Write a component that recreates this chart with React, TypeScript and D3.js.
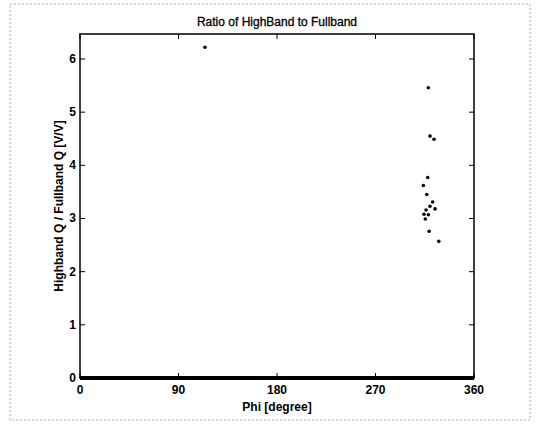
import React, { useEffect, useRef } from "react";
import * as d3 from "d3";

// Phi [degree] and ratio
const phi = [114.2, 318.3, 319.8, 323.5, 317.7, 313.7, 316.8, 322.2, 319.8, 324.4, 316.2, 314.3, 318.3, 315.5, 319.0, 327.8];
const ratio = [6.22, 5.46, 4.55, 4.49, 3.77, 3.62, 3.45, 3.31, 3.23, 3.18, 3.16, 3.08, 3.07, 2.99, 2.76, 2.57];

const xTicks = [0, 90, 180, 270, 360];
const yTicks = [0, 1, 2, 3, 4, 5, 6];

const title = "Ratio of HighBand to Fullband";
const xLabel = "Phi [degree]";
const yLabel = "Highband Q / Fullband Q [V/V]";

const width = 542;
const height = 425;
const margin = { top: 34, right: 68, bottom: 47, left: 80 };

export default function App() {
  const svgRef = useRef<SVGSVGElement>(null);

  useEffect(() => {
    const svg = d3.select(svgRef.current);
    svg.selectAll("*").remove();

    const x = d3.scaleLinear().domain([0, 360]).range([margin.left, width - margin.right]);
    const y = d3.scaleLinear().domain([0, 6.47]).range([height - margin.bottom, margin.top]);

    const font = "'Liberation Sans', Arial, sans-serif";

    // scanned page border
    svg
      .append("rect")
      .attr("x", 10)
      .attr("y", 4)
      .attr("width", 520)
      .attr("height", 416)
      .attr("fill", "none")
      .attr("stroke", "#999")
      .attr("stroke-dasharray", "2,2")
      .attr("stroke-width", 0.8);

    const g = svg.append("g").attr("font-family", font).attr("font-size", 12);

    // plot box
    g.append("rect")
      .attr("x", x(0))
      .attr("y", y(6.47))
      .attr("width", x(360) - x(0))
      .attr("height", y(0) - y(6.47))
      .attr("fill", "none")
      .attr("stroke", "#000")
      .attr("stroke-width", 1.5);

    // zero values pile up along the bottom edge
    g.append("line")
      .attr("x1", x(0))
      .attr("x2", x(360))
      .attr("y1", y(0))
      .attr("y2", y(0))
      .attr("stroke", "#000")
      .attr("stroke-width", 4);

    const tl = 5;
    xTicks.forEach((t) => {
      g.append("line").attr("x1", x(t)).attr("x2", x(t)).attr("y1", y(0)).attr("y2", y(0) - tl).attr("stroke", "#000");
      g.append("line").attr("x1", x(t)).attr("x2", x(t)).attr("y1", y(6.47)).attr("y2", y(6.47) + tl).attr("stroke", "#000");
      g.append("text")
        .attr("x", x(t))
        .attr("y", y(0) + 16)
        .attr("text-anchor", "middle")
        .attr("font-weight", "bold")
        .text(t);
    });

    yTicks.forEach((t) => {
      g.append("line").attr("x1", x(0)).attr("x2", x(0) + tl).attr("y1", y(t)).attr("y2", y(t)).attr("stroke", "#000");
      g.append("line").attr("x1", x(360)).attr("x2", x(360) - tl).attr("y1", y(t)).attr("y2", y(t)).attr("stroke", "#000");
      g.append("text")
        .attr("x", x(0) - 4)
        .attr("y", y(t) + 4)
        .attr("text-anchor", "end")
        .attr("font-weight", "bold")
        .text(t);
    });

    g.selectAll("circle")
      .data(phi.map((p, i) => ({ p, r: ratio[i] })))
      .join("circle")
      .attr("cx", (d) => x(d.p))
      .attr("cy", (d) => y(d.r))
      .attr("r", 1.8)
      .attr("fill", "#000");

    g.append("text")
      .attr("x", (x(0) + x(360)) / 2)
      .attr("y", 26)
      .attr("text-anchor", "middle")
      .attr("stroke", "#000")
      .attr("stroke-width", 0.3)
      .text(title);

    g.append("text")
      .attr("x", (x(0) + x(360)) / 2)
      .attr("y", 411)
      .attr("text-anchor", "middle")
      .attr("font-weight", "bold")
      .text(xLabel);

    g.append("text")
      .attr("transform", `translate(63,${(y(0) + y(6.47)) / 2}) rotate(-90)`)
      .attr("text-anchor", "middle")
      .attr("font-weight", "bold")
      .text(yLabel);
  }, []);

  return (
    <div style={{ position: "absolute", left: 0, top: 0 }}>
      <svg ref={svgRef} width={width} height={height} style={{ display: "block", background: "#fff" }} />
    </div>
  );
}
